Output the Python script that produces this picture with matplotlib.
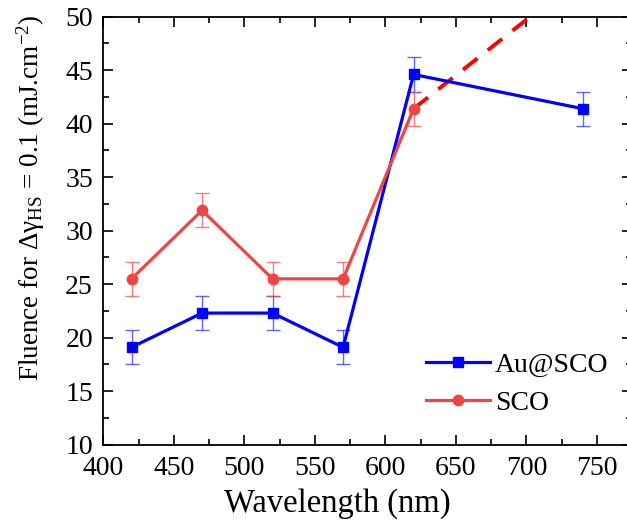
import numpy as np
import matplotlib
matplotlib.use("Agg")
import matplotlib.pyplot as plt
from matplotlib.ticker import MultipleLocator

plt.rcParams['font.family'] = ['Liberation Serif', 'DejaVu Serif']
plt.rcParams['mathtext.fontset'] = 'custom'
plt.rcParams['mathtext.rm'] = 'Liberation Serif'
plt.rcParams['mathtext.it'] = 'Liberation Serif:italic'

# ==== Data ====
wl_au = [420, 470, 520, 570, 620, 740]
fluence_au = [19.1, 22.3, 22.3, 19.1, 44.6, 41.4]
err_au = [1.6, 1.6, 1.6, 1.6, 1.6, 1.6]

wl_sco = [420, 470, 520, 570, 620]
fluence_sco = [25.5, 31.9, 25.5, 25.5, 41.4]
err_sco = [1.6, 1.6, 1.6, 1.6, 1.6]

# dashed extrapolation of SCO
wl_extra = [620, 720]
fluence_extra = [41.4, 51.8]

# ==== Plotting ====
fig = plt.figure(figsize=(6.27, 5.25), dpi=100)
ax = fig.add_axes([0.1648, 0.1530, 0.8435, 0.8152])

blue = '#0000ff'
red = '#f04545'

ax.plot(wl_extra, fluence_extra, '--', color='#ff0000', lw=2.8, dashes=(4.7, 3.4), zorder=2)

ax.errorbar(wl_au, fluence_au, yerr=err_au, fmt='none', ecolor=blue, elinewidth=1.0,
            capsize=5, capthick=1.0, alpha=0.6, zorder=3)
ax.plot(wl_au, fluence_au, '-s', color=blue, lw=2.3, ms=6.8, label='Au@SCO', zorder=4)

ax.errorbar(wl_sco, fluence_sco, yerr=err_sco, fmt='none', ecolor=red, elinewidth=1.0,
            capsize=5, capthick=1.0, alpha=0.7, zorder=3)
ax.plot(wl_sco, fluence_sco, '-o', color=red, lw=2.3, ms=7.5, label='SCO', zorder=4)

ax.set_xlim(400, 775)
ax.set_ylim(10, 50)
ax.xaxis.set_major_locator(MultipleLocator(50))
ax.xaxis.set_minor_locator(MultipleLocator(25))
ax.yaxis.set_major_locator(MultipleLocator(5))
ax.yaxis.set_minor_locator(MultipleLocator(2.5))

ax.tick_params(which='both', direction='in', top=True, right=True, width=1.2)
ax.tick_params(which='major', length=7)
ax.tick_params(which='minor', length=4)
ax.tick_params(axis='x', labelsize=20, pad=8.4)
ax.tick_params(axis='y', labelsize=20, pad=7.5)
for s in ax.spines.values():
    s.set_linewidth(1.3)

ax.set_xlabel("Wavelength (nm)", fontsize=23.5)
ax.xaxis.set_label_coords(0.443, -0.101)
ax.set_ylabel(r"Fluence for Δγ$_{\mathrm{HS}}$ = 0.1 (mJ.cm$^{\mathrm{-2}}$)", fontsize=19.5)
ax.yaxis.set_label_coords(-0.107, 0.576)

ax.legend(loc='center left', bbox_to_anchor=(0.6096, 0.1418), frameon=False, fontsize=20,
          handlelength=2.3, handletextpad=0.2, labelspacing=0.45, borderaxespad=0, borderpad=0)

plt.savefig("out.png", dpi=100)
plt.close()
